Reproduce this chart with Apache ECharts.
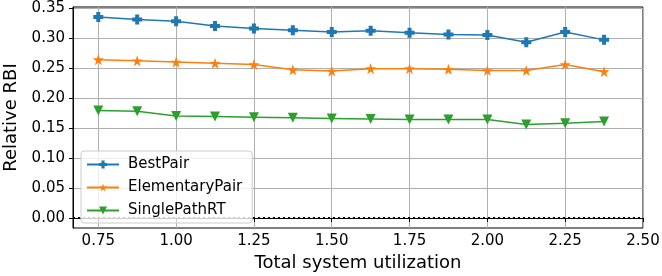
<!DOCTYPE html>
<html><head><meta charset="utf-8">
<script src="https://cdn.jsdelivr.net/npm/echarts@6/dist/echarts.min.js"></script>
<style>html,body{margin:0;padding:0;background:#fff}#c{width:662px;height:276px}</style>
</head><body><div id="c"></div>
<script>
const xValues = [0.75, 0.875, 1.0, 1.125, 1.25, 1.375, 1.5, 1.625, 1.75, 1.875, 2.0, 2.125, 2.25, 2.375];
const bestPair = [0.335, 0.331, 0.328, 0.320, 0.316, 0.313, 0.310, 0.312, 0.309, 0.306, 0.305, 0.293, 0.310, 0.297];
const elementaryPair = [0.264, 0.262, 0.260, 0.258, 0.256, 0.247, 0.245, 0.249, 0.249, 0.248, 0.246, 0.246, 0.256, 0.244];
const singlePathRT = [0.179, 0.178, 0.170, 0.169, 0.168, 0.167, 0.166, 0.165, 0.164, 0.164, 0.164, 0.156, 0.158, 0.161];
const xTicks = [0.75, 1.00, 1.25, 1.50, 1.75, 2.00, 2.25, 2.50];
const yTicks = [0.00, 0.05, 0.10, 0.15, 0.20, 0.25, 0.30, 0.35];
const seriesNames = ['BestPair', 'ElementaryPair', 'SinglePathRT'];

const plusPath = 'path://M3,0H7V3H10V7H7V10H3V7H0V3H3Z';
const starPath = 'path://M50,0L61.8,35.4L99,35.4L69,57.3L80.4,92.7L50,70.8L19.6,92.7L31,57.3L1,35.4L38.2,35.4Z';

function pts(arr){ return xValues.map((x,i)=>[x, arr[i]]); }
const font = 'DejaVu Sans';
const chart = echarts.init(document.getElementById('c'), null, {renderer:'canvas'});
chart.setOption({
  animation:false,
  textStyle:{fontFamily:font},
  grid:{left:73, right:19, top:7, bottom:48, show:true, borderColor:'#000', borderWidth:1, backgroundColor:'transparent',
        containLabel:false, outerBoundsMode:'none'},
  xAxis:{
    type:'value', min:0.66875, max:2.5,
    name:'Total system utilization', nameLocation:'middle', nameGap:25,
    nameTextStyle:{fontSize:18, color:'#000', fontFamily:font},
    axisLine:{show:true, lineStyle:{color:'#000'}},
    axisTick:{show:true, customValues:xTicks, length:4, lineStyle:{color:'#000'}},
    axisLabel:{customValues:xTicks, fontSize:15, color:'#000', margin:6, formatter:v=>v.toFixed(2), fontFamily:font},
    splitLine:{show:true, lineStyle:{color:'#b0b0b0', width:1}}
  },
  yAxis:{
    type:'value', min:-0.01675, max:0.3518,
    name:'Relative RBI', nameLocation:'middle', nameGap:45,
    nameTextStyle:{fontSize:18, color:'#000', fontFamily:font},
    axisLine:{show:true, lineStyle:{color:'#000'}},
    axisTick:{show:true, customValues:yTicks, length:4, lineStyle:{color:'#000'}},
    axisLabel:{customValues:yTicks, fontSize:15, color:'#000', margin:8, formatter:v=>v.toFixed(2), fontFamily:font},
    splitLine:{show:true, lineStyle:{color:'#b0b0b0', width:1}}
  },
  legend:{
    left:81, top:151, orient:'vertical', itemWidth:32, itemHeight:10, itemGap:8, z:20, zlevel:0,
    padding:[6,10,5,5],
    backgroundColor:'rgba(255,255,255,0.8)', borderColor:'#ccc', borderWidth:1, borderRadius:3,
    textStyle:{fontSize:15, color:'#000', fontFamily:font, padding:[0,0,0,4]},
    data:seriesNames
  },
  series:[
    {name:seriesNames[0], type:'line', data:pts(bestPair), color:'#1f77b4', symbol:plusPath, symbolSize:10,
     lineStyle:{width:1.5}, z:3,
     markLine:{silent:true, symbol:'none', label:{show:false}, data:[{yAxis:0}], z:2,
       lineStyle:{color:'#000', type:[2,3], width:2}}},
    {name:seriesNames[1], type:'line', data:pts(elementaryPair), color:'#ff7f0e', symbol:starPath, symbolSize:11,
     lineStyle:{width:1.5}, z:3},
    {name:seriesNames[2], type:'line', data:pts(singlePathRT), color:'#2ca02c', symbol:'triangle', symbolRotate:180, symbolSize:10,
     lineStyle:{width:1.5}, z:3}
  ]
});
</script></body></html>
